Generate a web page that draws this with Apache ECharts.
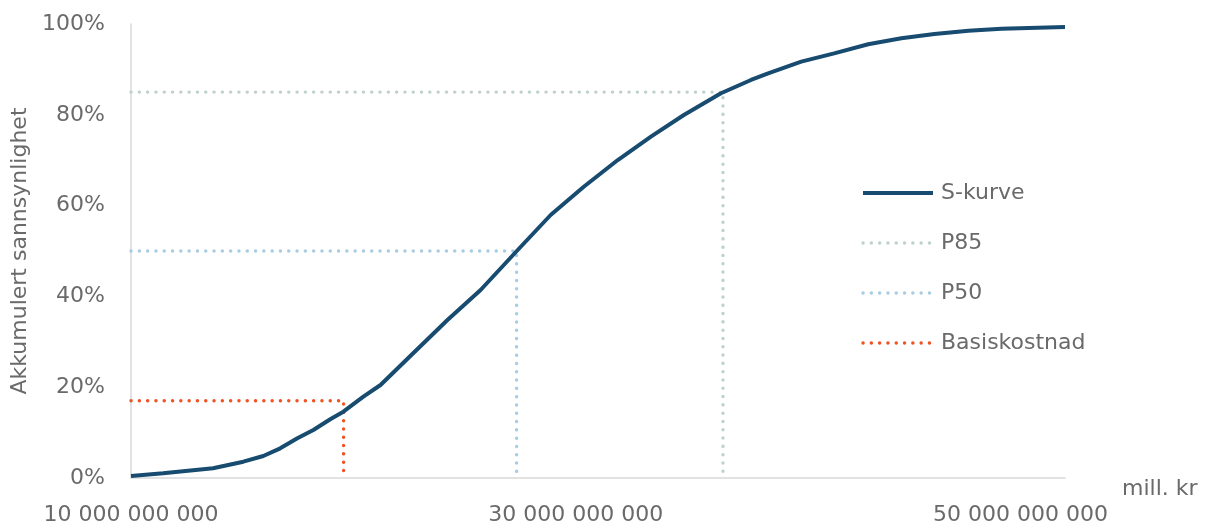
<!DOCTYPE html>
<html>
<head>
<meta charset="utf-8">
<script src="https://cdn.jsdelivr.net/npm/echarts@6/dist/echarts.min.js"></script>
<style>
  html, body { margin: 0; padding: 0; background: #fff; }
  #chart { width: 1205px; height: 529px; }
</style>
</head>
<body>
<div id="chart"></div>
<script>
// Cumulative cost distribution (S-curve), cost in kr
const costs = [
  10.00e9, 11.44e9, 13.69e9, 15.05e9, 15.95e9, 16.71e9, 17.48e9, 18.20e9,
  18.96e9, 19.55e9, 20.45e9, 21.22e9, 22.70e9, 24.23e9, 25.72e9, 27.39e9,
  28.87e9, 30.36e9, 31.89e9, 33.38e9, 34.86e9, 36.53e9, 37.88e9, 38.65e9,
  40.14e9, 41.62e9, 43.15e9, 44.64e9, 46.13e9, 47.66e9, 49.14e9, 52.00e9
];
const probs = [
  0.0044, 0.0104, 0.0214, 0.0359, 0.0485, 0.0654, 0.0874, 0.1057,
  0.1293, 0.1460, 0.1791, 0.2048, 0.2753, 0.3480, 0.4141, 0.5022,
  0.5793, 0.6416, 0.7004, 0.7518, 0.7996, 0.8474, 0.8767, 0.8914,
  0.9170, 0.9354, 0.9553, 0.9685, 0.9780, 0.9852, 0.9896, 0.9934
];

// Reference markers: [cost, probability]
const p85 = [36.62e9, 0.85];
const p50 = [27.34e9, 0.50];
const basis = [19.56e9, 0.17];

const xMin = 10e9, xMax = 52e9, xStep = 20e9;
const xTickValues = [10e9, 30e9, 50e9];
const yTickValues = [0, 0.2, 0.4, 0.6, 0.8, 1.0];

const seriesNames = ['S-kurve', 'P85', 'P50', 'Basiskostnad'];
const colors = ['#174B6F', '#BFD1CC', '#A8CCE2', '#EF5322'];

const FONT = 'DejaVu Sans';
const TXT = '#6A6A6A';

function fmtKr(v) {
  return Math.round(v).toString().replace(/\B(?=(\d{3})+(?!\d))/g, ' ');
}
function marker(p) {
  return [[xMin, p[1]], [p[0], p[1]], [p[0], 0]];
}
const dotted = { type: [0.1, 8.2], cap: 'round', width: 3.4 };

const chart = echarts.init(document.getElementById('chart'), null, { renderer: 'canvas' });
chart.setOption({
  animation: false,
  backgroundColor: '#ffffff',
  textStyle: { fontFamily: FONT },
  grid: { left: 131, right: 140, top: 24, bottom: 51, containLabel: false },
  legend: {
    orient: 'vertical',
    left: 856,
    top: 177,
    itemWidth: 70,
    itemHeight: 20,
    itemGap: 28,
    itemStyle: { opacity: 0 },
    data: [
      { name: seriesNames[0], lineStyle: { width: 4 } },
      { name: seriesNames[1], lineStyle: { width: 3.4 } },
      { name: seriesNames[2], lineStyle: { width: 3.4 } },
      { name: seriesNames[3], lineStyle: { width: 3.4 } }
    ],
    textStyle: { fontFamily: FONT, fontSize: 22, color: TXT, padding: [0, 0, 0, 3] }
  },
  xAxis: {
    type: 'value',
    min: xMin,
    max: xMax,
    interval: xStep,
    name: 'mill. kr',
    nameLocation: 'end',
    nameGap: 57,
    nameTextStyle: { fontFamily: FONT, fontSize: 22, color: TXT, verticalAlign: 'top' },
    axisLine: { show: true, lineStyle: { color: '#D9D9D9', width: 1.5 } },
    axisTick: { show: false },
    splitLine: { show: false },
    axisLabel: {
      customValues: xTickValues,
      margin: 26,
      fontFamily: FONT,
      fontSize: 22,
      color: TXT,
      formatter: fmtKr
    }
  },
  yAxis: {
    type: 'value',
    min: 0,
    max: 1,
    interval: 0.2,
    name: 'Akkumulert sannsynlighet',
    nameLocation: 'middle',
    nameGap: 85,
    nameTextStyle: { fontFamily: FONT, fontSize: 22, color: TXT },
    axisLine: { show: true, lineStyle: { color: '#D9D9D9', width: 1.5 } },
    axisTick: { show: false },
    splitLine: { show: false },
    axisLabel: {
      customValues: yTickValues,
      margin: 26,
      fontFamily: FONT,
      fontSize: 22,
      color: TXT,
      formatter: v => Math.round(v * 100) + '%'
    }
  },
  series: [
    {
      name: seriesNames[0],
      type: 'line',
      data: costs.map((c, i) => [c, probs[i]]),
      symbol: 'none',
      lineStyle: { color: colors[0], width: 4 },
      itemStyle: { color: colors[0] },
      z: 5
    },
    {
      name: seriesNames[1],
      type: 'line',
      data: marker(p85),
      symbol: 'none',
      lineStyle: Object.assign({ color: colors[1] }, dotted),
      itemStyle: { color: colors[1] }
    },
    {
      name: seriesNames[2],
      type: 'line',
      data: marker(p50),
      symbol: 'none',
      lineStyle: Object.assign({ color: colors[2] }, dotted),
      itemStyle: { color: colors[2] }
    },
    {
      name: seriesNames[3],
      type: 'line',
      data: marker(basis),
      symbol: 'none',
      lineStyle: Object.assign({ color: colors[3] }, dotted),
      itemStyle: { color: colors[3] }
    }
  ]
});
</script>
</body>
</html>
